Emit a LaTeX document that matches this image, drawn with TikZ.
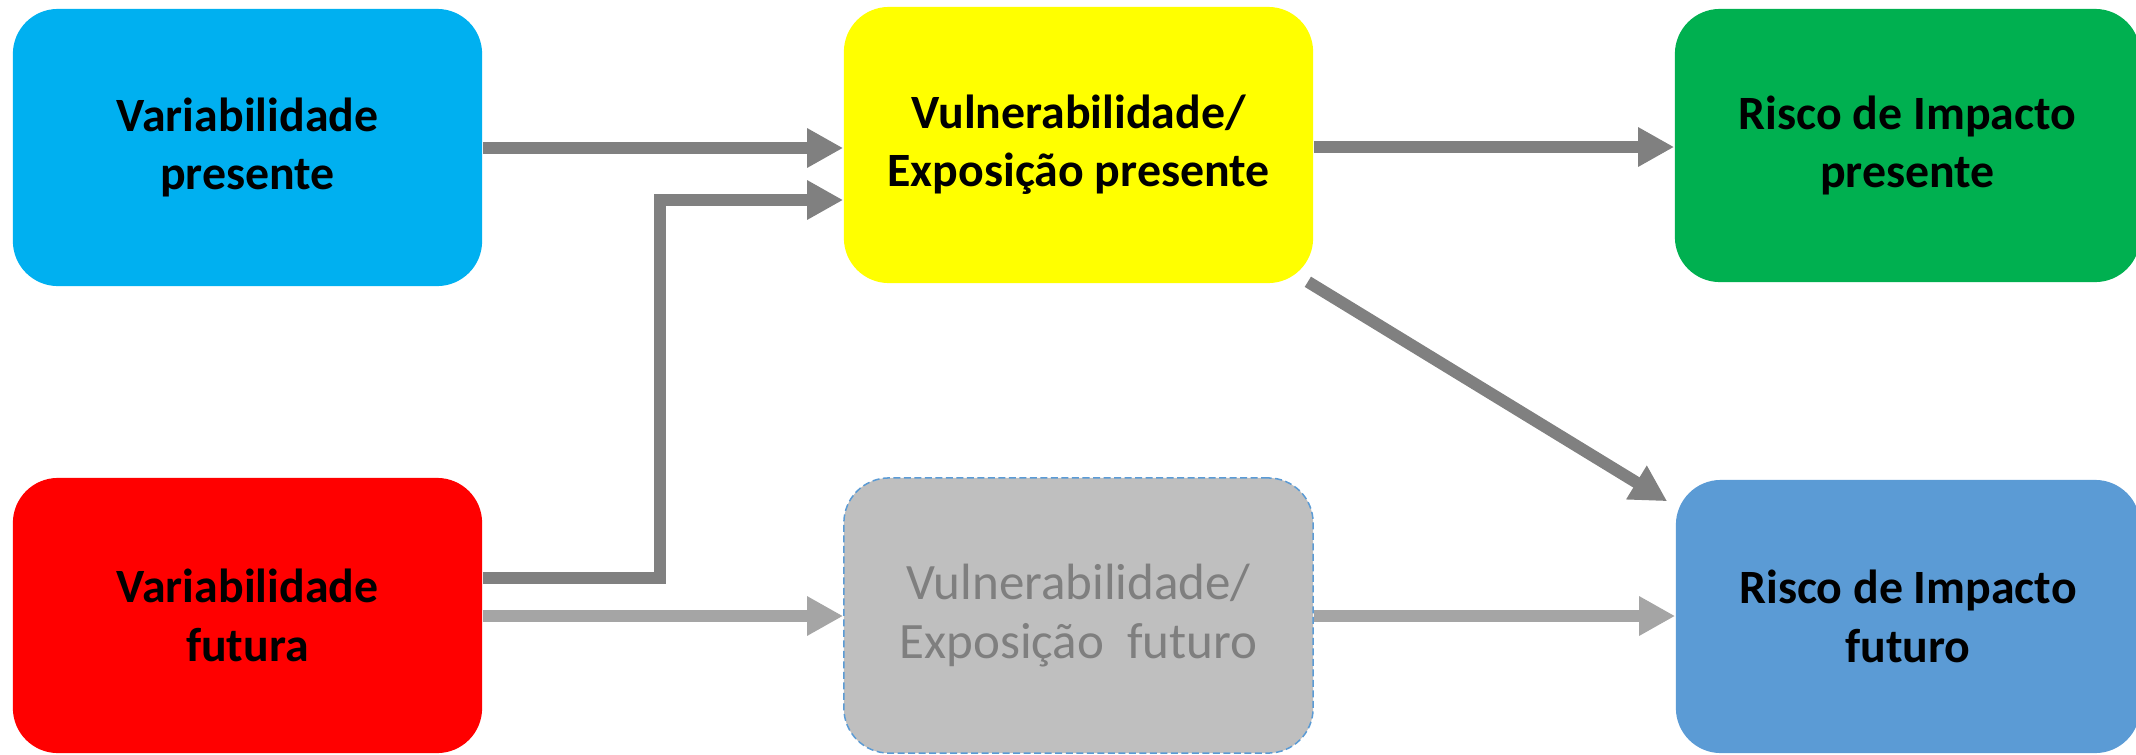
\documentclass[tikz,border=0pt]{standalone}
\usepackage{fontspec}
\setmainfont{Carlito}
\usetikzlibrary{arrows.meta}
\definecolor{cblue}{HTML}{00B0F0}
\definecolor{cyellow}{HTML}{FFFF00}
\definecolor{cgreen}{HTML}{00B050}
\definecolor{cred}{HTML}{FF0000}
\definecolor{cgrey}{HTML}{BFBFBF}
\definecolor{csteel}{HTML}{5B9BD5}
\definecolor{adark}{HTML}{808080}
\definecolor{alight}{HTML}{A5A5A5}
\definecolor{tgrey}{HTML}{7F7F7F}
\tikzset{
  box/.style={rounded corners=0.45cm, align=center, inner sep=0pt,
    font=\fontsize{13.6}{16.6}\selectfont\bfseries, text=black},
  arr/.style={draw=adark, line width=0.12cm, line join=miter,
    -{Triangle[length=0.36cm,width=0.37cm]}},
  arrlight/.style={arr, draw=alight},
}
\begin{document}
\begin{tikzpicture}[x=0.01cm,y=-0.01cm]
\useasboundingbox (0,0) rectangle (2136,754);
\node[box, fill=cblue, minimum width=4.69cm, minimum height=2.77cm] (b1) at (247.5,147.5) {Variabilidade\\presente};
\node[box, fill=cyellow, minimum width=4.69cm, minimum height=2.76cm] (b2) at (1078.5,145) {Vulnerabilidade/\\Exposição presente};
\node[box, fill=cgreen, minimum width=4.65cm, minimum height=2.73cm] (b3) at (1907.5,145.5) {Risco de Impacto\\presente};
\node[box, fill=cred, minimum width=4.69cm, minimum height=2.75cm] (b4) at (247.5,615.5) {Variabilidade\\futura};
\node[box, fill=cgrey, draw=csteel, line width=0.015cm, dash pattern=on 0.07cm off 0.035cm,
  minimum width=4.69cm, minimum height=2.75cm, font=\fontsize{14.5}{16.8}\selectfont, text=tgrey] (b5) at (1078.5,615.5) {Vulnerabilidade/\\Exposição\ \ futuro};
\node[box, fill=csteel, minimum width=4.64cm, minimum height=2.73cm] (b6) at (1908,616.5) {Risco de Impacto\\futuro};

\draw[arr] (b1.east |- 0,148) -- (b2.west |- 0,148);
\draw[arr] (b4.east |- 0,578) -| (660,200) -- (b2.west |- 0,200);
\draw[arr] (b2.east |- 0,147) -- (b3.west |- 0,147);
\draw[arr] ([shift={(-6,-2)}]b2.south east) -- ([shift={(-8,22)}]b6.north west);
\draw[arrlight] (b4.east |- 0,616) -- (b5.west |- 0,616);
\draw[arrlight] (b5.east |- 0,616) -- (b6.west |- 0,616);
\end{tikzpicture}
\end{document}
